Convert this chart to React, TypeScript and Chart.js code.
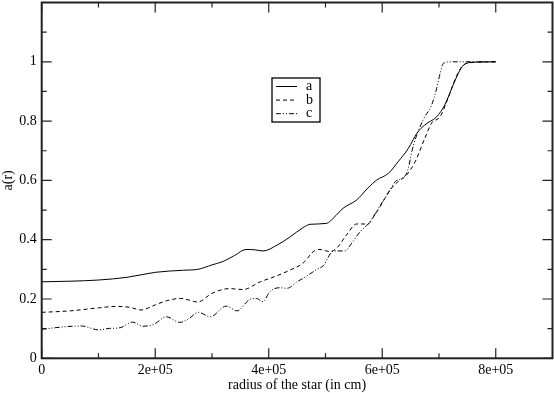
import React, { useEffect, useRef } from 'react';
import { Chart, registerables } from 'chart.js';

Chart.register(...registerables);

// ---- data (x in cm) ----
const seriesNames = ['a', 'b', 'c'];

const aX = [0, 0.5e5, 1.0e5, 1.5e5, 2.0e5, 2.5e5, 2.75e5, 3.0e5, 3.2e5, 3.4e5, 3.6e5, 3.75e5, 3.9e5, 4.15e5, 4.38e5, 4.6e5, 4.73e5, 5.02e5, 5.15e5, 5.31e5, 5.55e5, 5.75e5, 5.9e5, 6.11e5, 6.28e5, 6.46e5, 6.61e5, 6.75e5, 6.96e5, 7.1e5, 7.25e5, 7.37e5, 7.46e5, 7.64e5, 8.0e5];
const aY = [0.258, 0.260, 0.264, 0.273, 0.290, 0.297, 0.300, 0.315, 0.327, 0.347, 0.367, 0.366, 0.362, 0.382, 0.410, 0.440, 0.452, 0.455, 0.475, 0.506, 0.534, 0.575, 0.601, 0.624, 0.663, 0.708, 0.759, 0.787, 0.815, 0.854, 0.922, 0.972, 0.993, 0.999, 1.0];

const bX = [0, 0.5e5, 1.0e5, 1.3e5, 1.55e5, 1.75e5, 2.0e5, 2.2e5, 2.45e5, 2.75e5, 3.0e5, 3.3e5, 3.55e5, 3.85e5, 4.1e5, 4.38e5, 4.6e5, 4.8e5, 4.9e5, 5.08e5, 5.2e5, 5.37e5, 5.55e5, 5.75e5, 5.85e5, 5.96e5, 6.14e5, 6.31e5, 6.4e5, 6.58e5, 6.75e5, 6.87e5, 7.02e5, 7.16e5, 7.28e5, 7.4e5, 7.55e5, 8.0e5];
const bY = [0.155, 0.160, 0.170, 0.175, 0.172, 0.163, 0.180, 0.194, 0.202, 0.190, 0.219, 0.235, 0.232, 0.258, 0.275, 0.298, 0.320, 0.362, 0.367, 0.360, 0.372, 0.416, 0.453, 0.453, 0.478, 0.511, 0.568, 0.601, 0.612, 0.663, 0.742, 0.793, 0.815, 0.877, 0.939, 0.983, 0.997, 1.0];

const cX = [0, 0.45e5, 0.7e5, 1.0e5, 1.2e5, 1.38e5, 1.6e5, 1.78e5, 1.97e5, 2.2e5, 2.43e5, 2.6e5, 2.76e5, 2.97e5, 3.25e5, 3.44e5, 3.67e5, 3.78e5, 3.9e5, 4.02e5, 4.2e5, 4.32e5, 4.5e5, 4.65e5, 4.85e5, 4.96e5, 5.14e5, 5.34e5, 5.45e5, 5.61e5, 5.75e5, 5.85e5, 5.96e5, 6.14e5, 6.23e5, 6.43e5, 6.55e5, 6.72e5, 6.87e5, 6.96e5, 7.02e5, 7.08e5, 7.22e5, 7.6e5, 8.0e5];
const cY = [0.098, 0.107, 0.109, 0.096, 0.101, 0.103, 0.122, 0.108, 0.114, 0.140, 0.121, 0.135, 0.155, 0.140, 0.176, 0.160, 0.199, 0.202, 0.191, 0.225, 0.238, 0.236, 0.258, 0.275, 0.300, 0.312, 0.362, 0.362, 0.385, 0.427, 0.453, 0.480, 0.514, 0.568, 0.596, 0.624, 0.719, 0.804, 0.854, 0.911, 0.961, 0.995, 1.0, 1.0, 1.0];

const xTickValues = [0, 2e5, 4e5, 6e5, 8e5];
const xTickLabels = ['0', '2e+05', '4e+05', '6e+05', '8e+05'];
const xMinorValues = [1e5, 3e5, 5e5, 7e5];
const yTickValues = [0, 0.2, 0.4, 0.6, 0.8, 1.0];
const yTickLabels = ['0', '0.2', '0.4', '0.6', '0.8', '1'];
const yMinorValues = [0.1, 0.3, 0.5, 0.7, 0.9, 1.1];

const xTitle = 'radius of the star (in cm)';
const yTitle = 'a(r)';

const FONT = "'Liberation Serif', 'DejaVu Serif', serif";
const dashes: number[][] = [[], [4, 3], [5, 2, 1, 2, 1, 2]];

const framePlugin = {
  id: 'frameTicks',
  afterDraw(chart: any) {
    const { ctx, chartArea, scales } = chart;
    const { left, right, top, bottom } = chartArea;
    const xs = scales.x;
    const ys = scales.y;
    ctx.save();
    ctx.strokeStyle = '#222';
    ctx.lineWidth = 1.2;
    ctx.beginPath();
    const tickX = (v: number, len: number) => {
      const p = xs.getPixelForValue(v);
      ctx.moveTo(p, bottom);
      ctx.lineTo(p, bottom - len);
      ctx.moveTo(p, top);
      ctx.lineTo(p, top + len);
    };
    const tickY = (v: number, len: number) => {
      const p = ys.getPixelForValue(v);
      ctx.moveTo(left, p);
      ctx.lineTo(left + len, p);
      ctx.moveTo(right, p);
      ctx.lineTo(right - len, p);
    };
    xTickValues.forEach((v) => tickX(v, 10));
    xMinorValues.forEach((v) => tickX(v, 5));
    yTickValues.forEach((v) => tickY(v, 10));
    yMinorValues.forEach((v) => tickY(v, 5));
    ctx.stroke();
    ctx.lineWidth = 2;
    ctx.strokeRect(left, top, right - left, bottom - top);

    // legend box
    const bx = 272, by = 78, bw = 48, bh = 44;
    ctx.lineWidth = 1.3;
    ctx.strokeStyle = '#000';
    ctx.strokeRect(bx, by, bw, bh);
    ctx.font = `14px ${FONT}`;
    ctx.fillStyle = '#000';
    ctx.textBaseline = 'middle';
    ctx.textAlign = 'left';
    seriesNames.forEach((name, i) => {
      const yy = by + 8.5 + i * 13.6;
      ctx.beginPath();
      ctx.setLineDash(dashes[i]);
      ctx.lineWidth = 1;
      ctx.moveTo(bx + 4, yy);
      ctx.lineTo(bx + 25, yy);
      ctx.stroke();
      ctx.setLineDash([]);
      ctx.fillText(name, bx + 34, yy);
    });
    ctx.restore();
  },
};

export default function App() {
  const ref = useRef<HTMLCanvasElement | null>(null);

  useEffect(() => {
    if (!ref.current) return;
    const mk = (xa: number[], ya: number[]) => xa.map((x, i) => ({ x, y: ya[i] }));
    const chart = new Chart(ref.current, {
      type: 'line',
      data: {
        datasets: [
          { label: seriesNames[0], data: mk(aX, aY), borderDash: dashes[0] },
          { label: seriesNames[1], data: mk(bX, bY), borderDash: dashes[1] },
          { label: seriesNames[2], data: mk(cX, cY), borderDash: dashes[2] },
        ].map((d) => ({
          ...d,
          borderColor: '#000',
          borderWidth: 1,
          pointRadius: 0,
          fill: false,
          cubicInterpolationMode: 'monotone' as const,
        })),
      },
      options: {
        animation: false,
        responsive: false,
        layout: { padding: { top: 2.5, right: 1.5, left: 0, bottom: 0 } },
        plugins: { legend: { display: false }, tooltip: { enabled: false } },
        scales: {
          x: {
            type: 'linear',
            min: 0,
            max: 9e5,
            grid: { display: false, drawTicks: false },
            border: { display: false },
            afterBuildTicks: (s: any) => {
              s.ticks = xTickValues.map((v) => ({ value: v }));
            },
            afterFit: (s: any) => {
              s.height = 34.7;
              s.paddingLeft = 0;
              s.paddingRight = 0;
            },
            ticks: {
              padding: 4,
              color: '#000',
              maxRotation: 0,
              autoSkip: false,
              font: { family: FONT, size: 14 },
              callback: (v: any) => {
                const i = xTickValues.indexOf(Number(v));
                return i >= 0 ? xTickLabels[i] : '';
              },
            },
            title: {
              display: true,
              text: xTitle,
              color: '#000',
              font: { family: FONT, size: 14 },
              padding: { top: 0, bottom: -0.5 },
            },
          },
          y: {
            type: 'linear',
            min: 0,
            max: 1.2,
            grid: { display: false, drawTicks: false },
            border: { display: false },
            afterBuildTicks: (s: any) => {
              s.ticks = yTickValues.map((v) => ({ value: v }));
            },
            afterFit: (s: any) => {
              s.width = 41.7;
              s.paddingTop = 0;
              s.paddingBottom = 0;
            },
            ticks: {
              padding: 5,
              color: '#000',
              autoSkip: false,
              font: { family: FONT, size: 14 },
              callback: (v: any) => {
                const i = yTickValues.findIndex((t) => Math.abs(t - Number(v)) < 1e-9);
                return i >= 0 ? yTickLabels[i] : '';
              },
            },
            title: {
              display: true,
              text: yTitle,
              color: '#000',
              font: { family: FONT, size: 14 },
              padding: { top: 0, bottom: 0 },
            },
          },
        },
      },
      plugins: [framePlugin],
    });
    return () => chart.destroy();
  }, []);

  return (
    <div style={{ position: 'absolute', left: 0, top: 0, width: 554, height: 393, background: '#fff' }}>
      <canvas ref={ref} width={554} height={393} />
    </div>
  );
}
